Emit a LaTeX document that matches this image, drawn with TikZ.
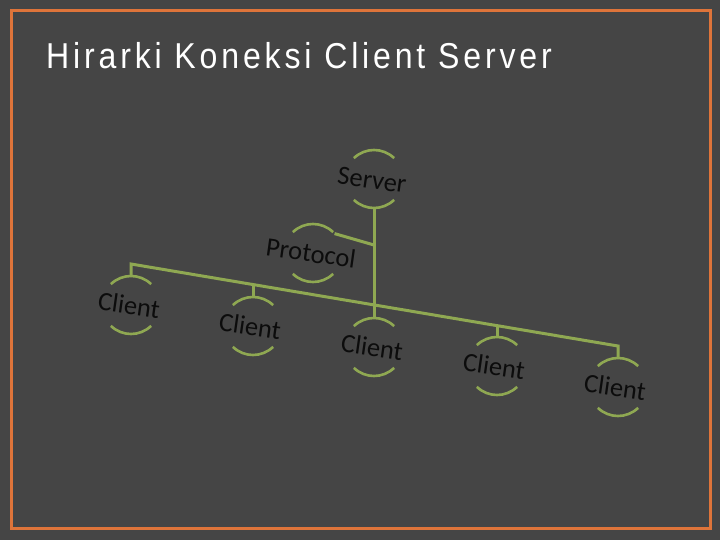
\documentclass[tikz,border=0pt]{standalone}
\usepackage{fontspec}
\setmainfont{Liberation Sans}
\newfontfamily\calib{Carlito}
\newfontfamily\ttlfont[LetterSpace=12]{Liberation Sans}
\usetikzlibrary{calc}
\definecolor{bg}{RGB}{69,69,69}
\definecolor{frameor}{RGB}{222,116,58}
\definecolor{lgreen}{RGB}{143,168,82}
\definecolor{ink}{RGB}{12,12,12}
\begin{document}
\begin{tikzpicture}[x=1pt,y=-1pt,
  ln/.style={draw=lgreen,line width=3pt},
  arcln/.style={draw=lgreen,line width=2.6pt},
  hub/.style={circle,minimum size=58pt,inner sep=0pt,outer sep=0pt},
  lbl/.style={text=ink,font=\calib\fontsize{26.5}{30}\selectfont,rotate=-8,inner sep=0pt},
  ttl/.style={text=white,font=\ttlfont\fontsize{36}{40}\selectfont,inner sep=0pt,anchor=base west,xscale=0.89}]
\fill[bg] (0,0) rectangle (720,540);
\useasboundingbox (0,0) rectangle (720,540);
\draw[frameor,line width=3pt] (11,11) rectangle (710,528);
\node[ttl] (title) at (46,69) {Hirarki Koneksi Client Server};
% structure nodes
\node[hub] (s) at (374,179) {};
\node[hub] (p) at (313,253) {};
\node[hub] (c1) at (131,305) {};
\node[hub] (c2) at (253,326) {};
\node[hub] (c3) at (374,347) {};
\node[hub] (c4) at (497,366) {};
\node[hub] (c5) at (618,387) {};
\coordinate (L) at (131,264);
\coordinate (R) at (618,346);
\coordinate (m2) at ($(L)!0.2505!(R)$);
\coordinate (m4) at ($(L)!0.7515!(R)$);
\coordinate (pj) at (374,245);
% labels
\node[lbl] (ts) at (372,180) {Server};
\node[lbl] (tp) at (311,253) {Protocol};
\node[lbl] (t1) at (129,305) {Client};
\node[lbl] (t2) at (250,326) {Client};
\node[lbl] (t3) at (372,347) {Client};
\node[lbl] (t4) at (494,366) {Client};
\node[lbl] (t5) at (615,387) {Client};
% arcs
\foreach \n in {s,p,c1,c2,c3,c4,c5}{
  \draw[arcln] (\n.46) arc (46:134:29pt);
  \draw[arcln] (\n.226) arc (226:314:29pt);
}
% connectors
\draw[ln] (s.south) -- (c3.north);
\draw[ln] (p.42) -- (pj);
\draw[ln] (c1.north) -- (L) -- (R) -- (c5.north);
\draw[ln] (c2.north) -- (c2.north |- m2);
\draw[ln] (c4.north) -- (c4.north |- m4);
\end{tikzpicture}
\end{document}
